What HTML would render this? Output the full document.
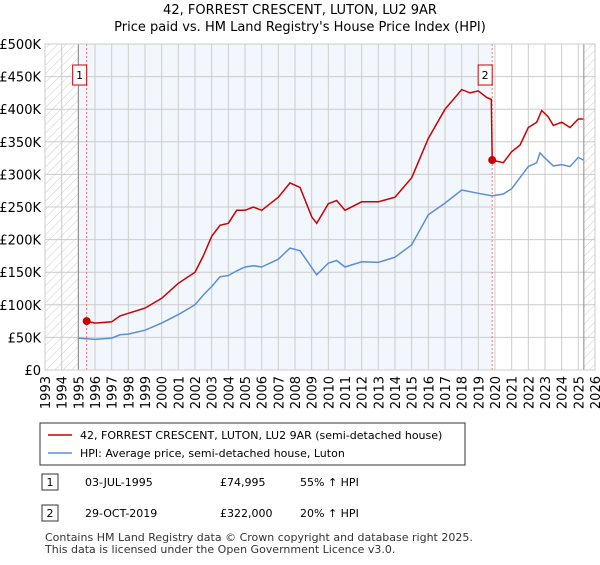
<!DOCTYPE html>
<html><head><meta charset="utf-8"><style>
body{margin:0;background:#fff;font-family:"Liberation Sans","DejaVu Sans",sans-serif;}
</style></head><body>
<svg width="600" height="560" xmlns="http://www.w3.org/2000/svg" font-family="DejaVu Sans, Liberation Sans, sans-serif">
<defs><pattern id="hatch" width="6" height="6" patternUnits="userSpaceOnUse" patternTransform="rotate(45)"><line x1="0" y1="0" x2="0" y2="6" stroke="#ccc" stroke-width="1"/></pattern></defs>
<text x="300" y="14" text-anchor="middle" font-size="13">42, FORREST CRESCENT, LUTON, LU2 9AR</text>
<text x="300" y="31" text-anchor="middle" font-size="13">Price paid vs. HM Land Registry's House Price Index (HPI)</text>
<g id="plot"></g>
<g>
<rect x="40" y="423" width="425" height="42" fill="#fff" stroke="#333"/>
<line x1="48" y1="435" x2="72" y2="435" stroke="#cc0000" stroke-width="1.5"/>
<text x="80" y="439" font-size="11">42, FORREST CRESCENT, LUTON, LU2 9AR (semi-detached house)</text>
<line x1="48" y1="453" x2="72" y2="453" stroke="#5b8fd4" stroke-width="1.5"/>
<text x="80" y="457" font-size="11">HPI: Average price, semi-detached house, Luton</text>
</g>
<g font-size="11">
<rect x="42" y="474" width="16" height="16" fill="#fff" stroke="#333"/><text x="50" y="486" text-anchor="middle">1</text>
<text x="85" y="486">03-JUL-1995</text><text x="220" y="486">£74,995</text><text x="300" y="486">55% ↑ HPI</text>
<rect x="42" y="505" width="16" height="16" fill="#fff" stroke="#333"/><text x="50" y="517" text-anchor="middle">2</text>
<text x="85" y="517">29-OCT-2019</text><text x="220" y="517">£322,000</text><text x="300" y="517">20% ↑ HPI</text>
</g>
<text x="45" y="541" font-size="11" fill="#333">Contains HM Land Registry data © Crown copyright and database right 2025.</text>
<text x="45" y="553" font-size="11" fill="#333">This data is licensed under the Open Government Licence v3.0.</text>
</svg>
<script>
const hpiDates=[1995,1996,1997,1997.5,1998,1999,2000,2001,2002,2002.5,2003,2003.5,2004,2004.5,2005,2005.5,2006,2007,2007.7,2008.3,2009,2009.3,2010,2010.5,2011,2012,2013,2014,2015,2016,2017,2018,2019,2019.83,2020.5,2021,2022,2022.5,2022.7,2023,2023.5,2024,2024.5,2025,2025.3];
const hpiValues=[49,47,49,54,55,61,72,85,100,115,128,143,145,152,158,160,158,170,187,183,157,146,164,168,158,166,165,173,192,238,256,276,271,267,270,278,312,318,333,325,313,315,312,326,322];
const redDates=[1995.5,1996,1997,1997.5,1998,1999,2000,2001,2002,2002.5,2003,2003.5,2004,2004.5,2005,2005.5,2006,2007,2007.7,2008.3,2009,2009.3,2010,2010.5,2011,2012,2013,2014,2015,2016,2017,2018,2018.5,2019,2019.5,2019.78,2019.83,2020.5,2021,2021.5,2022,2022.5,2022.8,2023.2,2023.5,2024,2024.5,2025,2025.3];
const redValues=[75,72,74,83,87,95,110,133,150,175,205,222,225,245,245,250,245,265,287,280,235,225,255,260,245,258,258,265,295,355,400,430,425,428,418,415,322,318,335,345,372,380,398,388,375,380,372,385,385];
const saleDates=[1995.5,2019.83];
const saleValues=[74.995,322];
const yTicks=[0,50,100,150,200,250,300,350,400,450,500];
const yLabels=["£0","£50K","£100K","£150K","£200K","£250K","£300K","£350K","£400K","£450K","£500K"];
const NS="http://www.w3.org/2000/svg";
const X0=45,X1=595,Y0=370,Y1=44;
const xs=y=>X0+(y-1993)/33*(X1-X0);
const ys=v=>Y0-v/500*(Y0-Y1);
const g=document.getElementById('plot');
function mk(t,a){const e=document.createElementNS(NS,t);for(const k in a)e.setAttribute(k,a[k]);g.appendChild(e);return e;}
let e;
e=mk('rect',{x:xs(1995),y:Y1,width:xs(2019.83)-xs(1995),height:Y0-Y1,fill:'#f2f6fd'});


e=mk('rect',{x:X0,y:Y1,width:xs(1995)-X0,height:Y0-Y1,fill:'url(#hatch)'});


e=mk('rect',{x:xs(2025.33),y:Y1,width:X1-xs(2025.33),height:Y0-Y1,fill:'url(#hatch)'});


for(let i=0;i<yTicks.length;i++){
 e=mk('line',{x1:X0,x2:X1,y1:ys(yTicks[i]),y2:ys(yTicks[i]),stroke:'#ccc'});
 
 
 e=mk('text',{x:X0-4,y:ys(yTicks[i])+5,'text-anchor':'end','font-size':13});
 e.textContent=yLabels[i];
 
 
}
for(let yr=1993;yr<=2026;yr++){
 e=mk('line',{x1:xs(yr),x2:xs(yr),y1:Y1,y2:Y0,stroke:'#ccc'});
 
 
 e=mk('text',{transform:`translate(${xs(yr)+5},${Y0+6}) rotate(-90)`,'text-anchor':'end','font-size':13});
 e.textContent=yr;
 
 
}
e=mk('line',{x1:xs(1995),x2:xs(1995),y1:Y1,y2:Y0,stroke:'#888'});


e=mk('line',{x1:xs(2025.33),x2:xs(2025.33),y1:Y1,y2:Y0,stroke:'#888'});


for(let i=0;i<saleDates.length;i++){
 e=mk('line',{x1:xs(saleDates[i]),x2:xs(saleDates[i]),y1:Y1,y2:Y0,stroke:'#f07070','stroke-dasharray':'2,2'});
 
 
}
function pts(d,v){return d.map((t,i)=>xs(t).toFixed(1)+','+ys(v[i]).toFixed(1)).join(' ');}
e=mk('polyline',{points:pts(hpiDates,hpiValues),fill:'none',stroke:'#5b8fd4','stroke-width':1.5});


e=mk('polyline',{points:pts(redDates,redValues),fill:'none',stroke:'#cc0000','stroke-width':1.5});


for(let i=0;i<saleDates.length;i++){
 e=mk('circle',{cx:xs(saleDates[i]),cy:ys(saleValues[i]),r:4,fill:'#cc0000'});
 
 
 const bx=xs(saleDates[i])-11;
 e=mk('rect',{x:bx-3,y:65,width:14,height:20,fill:'#fff',stroke:'#cc0000'});
 
 
 e=mk('text',{x:bx+4,y:79,'text-anchor':'middle','font-size':11});
 e.textContent=String(i+1);
 
 
}
e=mk('rect',{x:X0,y:Y1,width:X1-X0,height:Y0-Y1,fill:'none',stroke:'#ccc'});


</script>
</body></html>
